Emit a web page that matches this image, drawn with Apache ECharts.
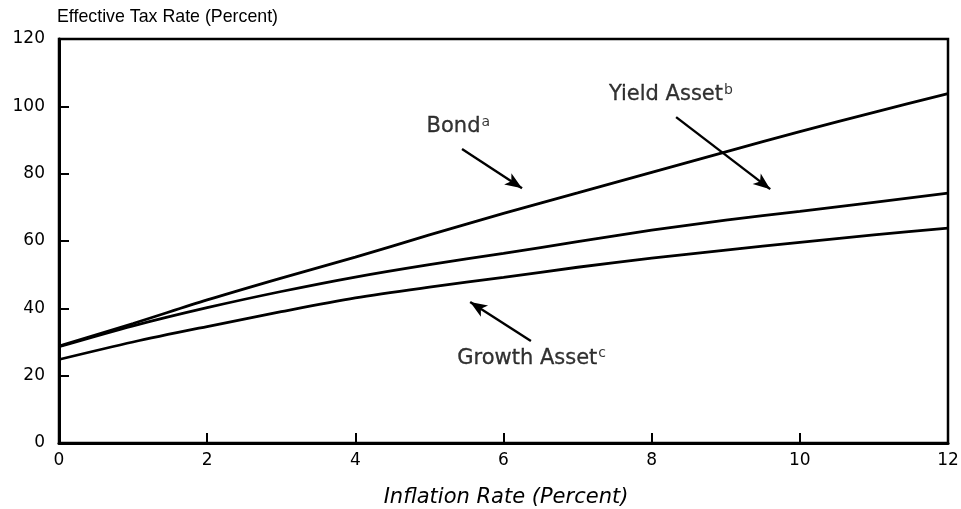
<!DOCTYPE html>
<html><head><meta charset="utf-8">
<script src="https://cdn.jsdelivr.net/npm/echarts@6/dist/echarts.min.js"></script>
<style>html,body{margin:0;padding:0;background:#fff}#c{width:961px;height:509px}</style>
</head><body><div id="c"></div>
<script>
const inflation = [0, 1, 2, 3, 4, 5, 6, 7, 8, 9, 10, 11, 12];
const bond   = [28.8, 35.5, 42.5, 49, 55.2, 61.8, 68.2, 74.3, 80.4, 86.5, 92.5, 98.2, 103.8];
const yieldAsset = [28.6, 34.8, 40.2, 45, 49.3, 53, 56.3, 59.8, 63.2, 66.2, 68.8, 71.5, 74.2];
const growth = [24.8, 30, 34.6, 39, 43.1, 46.3, 49.2, 52.2, 54.9, 57.3, 59.6, 61.8, 63.8];
const xTicks = [0, 2, 4, 6, 8, 10, 12];
const yTicks = [0, 20, 40, 60, 80, 100, 120];
// annotation arrows: [startX, startY, endX, endY] in data units
const arrowBond = [5.44, 87.3, 6.25, 75.7];
const arrowYield = [8.33, 96.8, 9.6, 75.4];
const arrowGrowth = [6.37, 30.3, 5.55, 41.9];
// annotation labels: [x, y, name, superscript]
const labels = [[5.39, 93.9, 'Bond', 'a'], [8.26, 103.4, 'Yield Asset', 'b'], [6.38, 25.2, 'Growth Asset', 'c']];

const chart = echarts.init(document.getElementById('c'));
const font = 'Liberation Sans, Arial, sans-serif';
const wide = 'DejaVu Sans, sans-serif';
const lineStyle = {color: '#000', width: 2.8};
function pairs(ys){return inflation.map((x,i)=>[x, ys[i]]);}
function arrow(a){return [{coord:[a[0],a[1]]},{coord:[a[2],a[3]]}];}
chart.setOption({
  animation: false,
  backgroundColor: '#fff',
  grid: {left: 59, right: 13, top: 39, bottom: 66, containLabel: false, outerBoundsMode: 'none',
         show: true, borderColor: '#000', borderWidth: 2.5},
  xAxis: {
    type: 'value', min: 0, max: 12, interval: 2,
    name: 'Inflation Rate (Percent)', nameLocation: 'middle', nameGap: 44,
    nameTextStyle: {fontFamily: wide, fontSize: 21, fontStyle: 'italic', color: '#000', padding: [0,0,0,5]},
    axisLine: {lineStyle: {color: '#000', width: 3}},
    axisTick: {inside: true, length: 10, lineStyle: {color: '#000', width: 2}},
    axisLabel: {fontFamily: wide, fontSize: 17, color: '#000', margin: 9},
    splitLine: {show: false}
  },
  yAxis: {
    type: 'value', min: 0, max: 120, interval: 20,
    name: 'Effective Tax Rate (Percent)', nameLocation: 'end', nameGap: 13,
    nameTextStyle: {fontFamily: font, fontSize: 17.8, color: '#000', align: 'left', padding: [0,0,0,-2]},
    axisLine: {lineStyle: {color: '#000', width: 3}},
    axisTick: {inside: true, length: 10, lineStyle: {color: '#000', width: 2}},
    axisLabel: {fontFamily: wide, fontSize: 17, color: '#000', margin: 14},
    splitLine: {show: false}
  },
  series: [
    {type: 'line', name: 'Bond', data: pairs(bond), smooth: 0.3, symbol: 'none', lineStyle: lineStyle,
     markLine: {silent: true, symbol: ['none','arrow'], symbolSize: [10, 17], lineStyle: {color:'#000', width: 2.4, type:'solid'}, label:{show:false},
       data: [arrow(arrowBond), arrow(arrowYield), arrow(arrowGrowth)]}},
    {type: 'line', name: 'Yield Asset', data: pairs(yieldAsset), smooth: 0.3, symbol: 'none', lineStyle: lineStyle},
    {type: 'line', name: 'Growth Asset', data: pairs(growth), smooth: 0.3, symbol: 'none', lineStyle: lineStyle},
    {type: 'scatter', data: labels.map(l=>[l[0], l[1], l[2], l[3]]), symbolSize: 0, silent: true,
     label: {show: true, position: 'inside', color: '#000',
       formatter: p => '{m|' + p.data[2] + '}{s|' + p.data[3] + '}',
       rich: {m: {fontFamily: wide, fontSize: 21, color: '#000', lineHeight: 24, textBorderColor: '#000', textBorderWidth: 0.3},
              s: {fontFamily: wide, fontSize: 14, color: '#000', verticalAlign: 'top', lineHeight: 24, padding: [0,0,10,1]}}}}
  ]
});
</script></body></html>
